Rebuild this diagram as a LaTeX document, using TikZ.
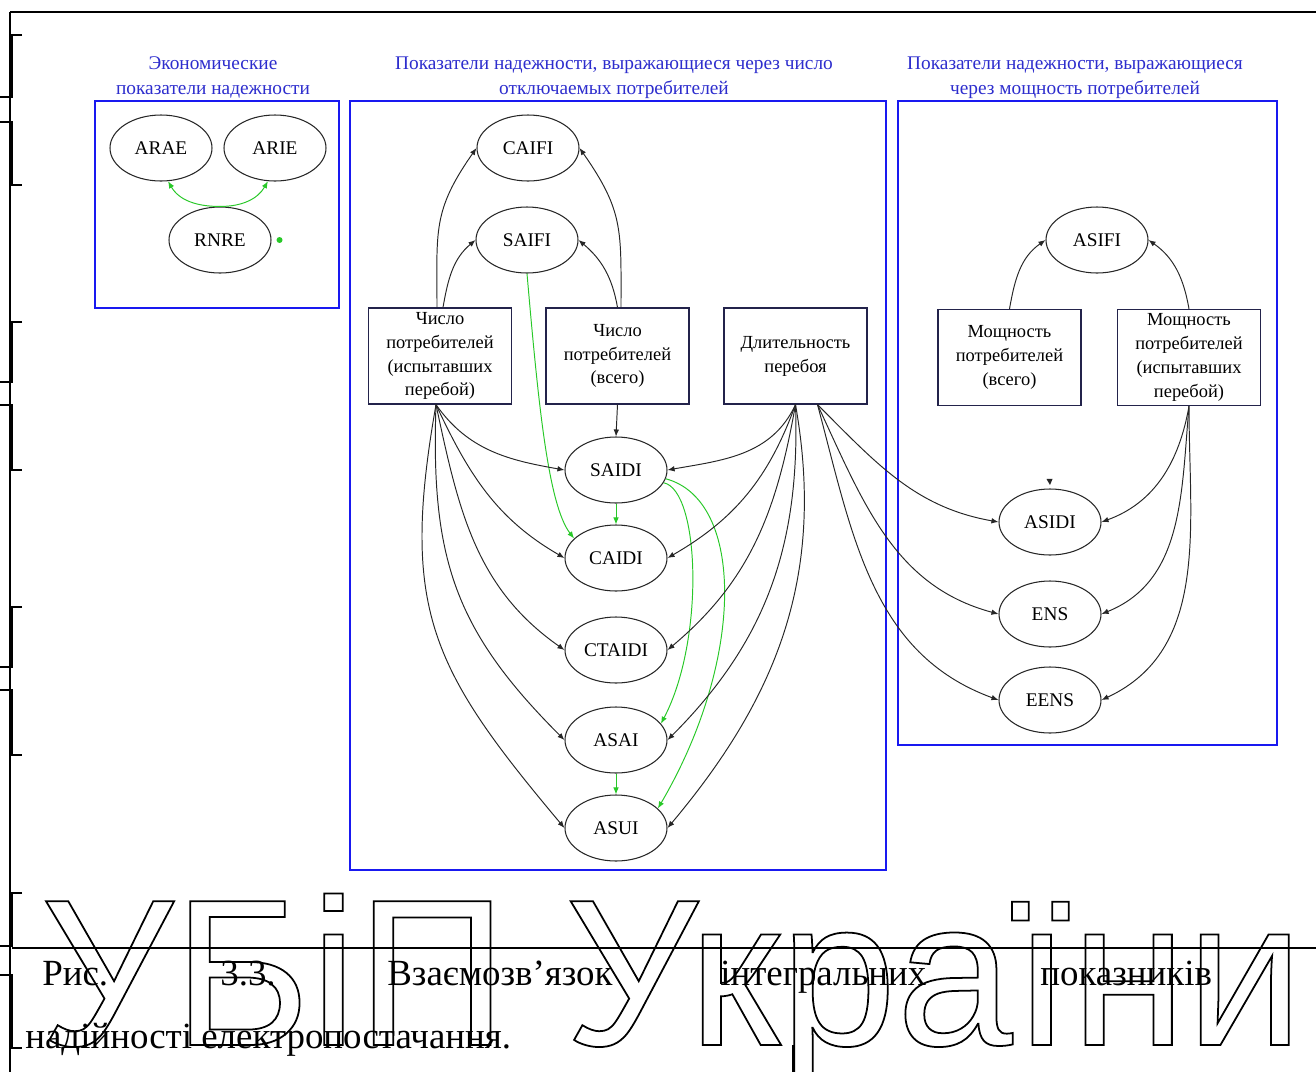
\documentclass[tikz,border=0pt]{standalone}
\usepackage{fontspec}
\setmainfont{Liberation Serif}
\newfontfamily\wmfont{Liberation Sans}
\usetikzlibrary{positioning,shapes.geometric,arrows.meta}

\definecolor{frameblue}{RGB}{25,25,240}
\definecolor{titleblue}{RGB}{45,45,205}
\definecolor{linkgreen}{RGB}{40,200,40}
\definecolor{boxline}{RGB}{35,35,75}

\newcommand{\outlined}[1]{\special{pdf:literal direct 0 G 1 w 1 Tr}#1\special{pdf:literal direct 0 Tr}}

\tikzset{
  idx/.style={ellipse, draw=black!85, line width=0.6pt, minimum width=20.4mm, minimum height=13.2mm, inner sep=0pt, font=\fontsize{11}{13.6}\selectfont},
  srcbox/.style={rectangle, draw=boxline, line width=0.7pt, minimum width=28.6mm, minimum height=19.2mm, inner sep=0pt, align=center, font=\fontsize{10.5}{13.6}\selectfont},
  grp/.style={rectangle, draw=frameblue, line width=0.9pt, inner sep=0pt},
  grptitle/.style={text=titleblue, align=center, inner sep=0pt, font=\fontsize{11}{14.2}\selectfont},
  arr/.style={-{Latex[length=4pt,width=3.2pt]}, line width=0.55pt, draw=black!85},
  garr/.style={arr, draw=linkgreen},
  pageline/.style={line width=0.8pt, draw=black},
  capword/.style={anchor=base west, inner sep=0pt, font=\fontsize{21}{25}\selectfont}
}

\begin{document}
\begin{tikzpicture}[x=0.2mm,y=0.2mm]
    \useasboundingbox (0,0) rectangle (1316,-1072);

    % Page lines
    \draw[pageline] (10,-12) -- (1316,-12);
    \draw[pageline] (10,-12) -- (10,-1072);
    \draw[pageline] (12,-948) -- (1316,-948);
    \draw[pageline] (793,-1045) -- (793,-1072);
    \foreach \ya/\yb/\yc/\yd in {35/97/122/185, 322/382/405/470, 607/667/690/755, 893/946/975/1048}{
        \draw[pageline, line width=1.2pt] (22,-\ya) -- (12,-\ya) -- (12,-\yb) -- (0,-\yb);
        \draw[pageline, line width=1.2pt] (0,-\yc) -- (12,-\yc) -- (12,-\yd) -- (22,-\yd);
    }

    % Groups
    \node[grp, minimum width=48.8mm, minimum height=41.4mm] (grpecon) at (217,-204.5) {};
    \node[grp, minimum width=107.2mm, minimum height=153.8mm] (grpcount) at (618,-485.5) {};
    \node[grp, minimum width=75.8mm, minimum height=128.8mm] (grppower) at (1087.5,-423) {};

    \node[grptitle, above=0.3mm of grpecon.north, xshift=-0.8mm] (ttlecon) {Экономические\\показатели надежности};
    \node[grptitle, above=0.3mm of grpcount.north, xshift=-0.8mm] (ttlcount) {Показатели надежности, выражающиеся через число\\отключаемых потребителей};
    \node[grptitle, above=0.3mm of grppower.north, xshift=-2.5mm] (ttlpower) {Показатели надежности, выражающиеся\\через мощность потребителей};

    % Nodes
    \node[idx] (arae) at (161,-148) {ARAE};
    \node[idx] (arie) at (275,-148) {ARIE};
    \node[idx] (rnre) at (220,-240) {RNRE};

    \node[idx] (caifi) at (528,-148) {CAIFI};
    \node[idx] (saifi) at (527,-240) {SAIFI};
    \node[srcbox] (custfail) at (440,-356) {Число\\потребителей\\(испытавших\\перебой)};
    \node[srcbox] (custall) at (617.5,-356) {Число\\потребителей\\(всего)};
    \node[srcbox] (duration) at (795.5,-356) {Длительность\\перебоя};
    \node[idx] (saidi) at (616,-470) {SAIDI};
    \node[idx] (caidi) at (616,-558) {CAIDI};
    \node[idx] (ctaidi) at (616,-650) {CTAIDI};
    \node[idx] (asai) at (616,-740) {ASAI};
    \node[idx] (asui) at (616,-828) {ASUI};

    \node[idx] (asifi) at (1097,-240) {ASIFI};
    \node[srcbox] (powall) at (1009.5,-357.5) {Мощность\\потребителей\\(всего)};
    \node[srcbox] (powfail) at (1189,-357.5) {Мощность\\потребителей\\(испытавших\\перебой)};
    \node[idx] (asidi) at (1050,-522) {ASIDI};
    \node[idx] (ens) at (1050,-614) {ENS};
    \node[idx] (eens) at (1050,-700) {EENS};

    % Arrows, economic group
    \draw[garr] (rnre.north) to[out=180,in=-60] (arae.-78);
    \draw[garr] (rnre.north) to[out=0,in=-120] (arie.-102);
    \fill[linkgreen] ([xshift=1.6mm]rnre.east) circle (0.6mm);

    % Arrows, count group
    \draw[arr] ([xshift=-0.6mm]custfail.north) to[out=90,in=235,looseness=1.2] (caifi.west);
    \draw[arr] ([xshift=0.6mm]custfail.north) to[out=80,in=220] (saifi.west);
    \draw[arr] ([xshift=0.7mm]custall.north) to[out=90,in=-55,looseness=1.2] (caifi.east);
    \draw[arr] (custall.north) to[out=100,in=-40] (saifi.east);
    \draw[arr] (custall.south) -- (saidi.north);
    \draw[garr] (saifi.south) .. controls (538,-400) and (548,-505) .. (caidi.155);
    \draw[garr] (saidi.south) -- (caidi.north);
    \draw[garr] (asai.south) -- (asui.north);
    \draw[garr] (saidi.-15) .. controls (700,-490) and (705,-640) .. (asai.20);
    \draw[garr] (saidi.-10) .. controls (745,-500) and (745,-660) .. (asui.25);

    \coordinate (fanfail) at ([xshift=-0.8mm]custfail.south);
    \draw[arr] (fanfail) to[out=-55,in=170] (saidi.west);
    \draw[arr] (fanfail) to[out=-65,in=150] (caidi.west);
    \draw[arr] (fanfail) to[out=-78,in=145] (ctaidi.west);
    \draw[arr] (fanfail) to[out=-92,in=135,looseness=1.1] (asai.west);
    \draw[arr] (fanfail) to[out=-100,in=130,looseness=1.2] (asui.west);

    \coordinate (fandur) at (duration.south);
    \draw[arr] (fandur) to[out=-115,in=10] (saidi.east);
    \draw[arr] (fandur) to[out=-110,in=30] (caidi.east);
    \draw[arr] (fandur) to[out=-100,in=40] (ctaidi.east);
    \draw[arr] (fandur) to[out=-88,in=45] (asai.east);
    \draw[arr] (fandur) to[out=-80,in=50] (asui.east);

    % Arrows, power group
    \coordinate (fanout) at ([xshift=4.4mm]duration.south);
    \draw[arr] (fanout) to[out=-45,in=170] (asidi.west);
    \draw[arr] (fanout) to[out=-65,in=165] (ens.west);
    \draw[arr] (fanout) to[out=-75,in=160] (eens.west);

    \draw[arr] (powall.north) to[out=80,in=215] (asifi.west);
    \draw[arr] (powfail.north) to[out=100,in=-35] (asifi.east);
    \draw[arr] (powfail.south) to[out=-100,in=20] (asidi.east);
    \draw[arr] (powfail.south) to[out=-95,in=22] (ens.east);
    \draw[arr] (powfail.south) to[out=-90,in=25] (eens.east);
    \fill[black!85] ([shift={(-0.7mm,1.9mm)}]asidi.north) -- ([shift={(0.5mm,1.9mm)}]asidi.north) -- ([yshift=0.7mm]asidi.north) -- cycle;

    % Watermark and caption
    \node[anchor=base west, inner sep=0pt] (wmark) at (40,-1045) {\wmfont\fontsize{119}{119}\selectfont\outlined{УБіП України}};
    \node[capword] (cap1) at (42,-985) {Рис.};
    \node[capword] (cap2) at (220,-985) {3.3.};
    \node[capword] (cap3) at (387,-985) {Взаємозв'язок};
    \node[capword] (cap4) at (720,-985) {інтегральних};
    \node[capword] (cap5) at (1040,-985) {показників};
    \node[capword] (cap6) at (25,-1048) {надійності електропостачання.};
\end{tikzpicture}
\end{document}
